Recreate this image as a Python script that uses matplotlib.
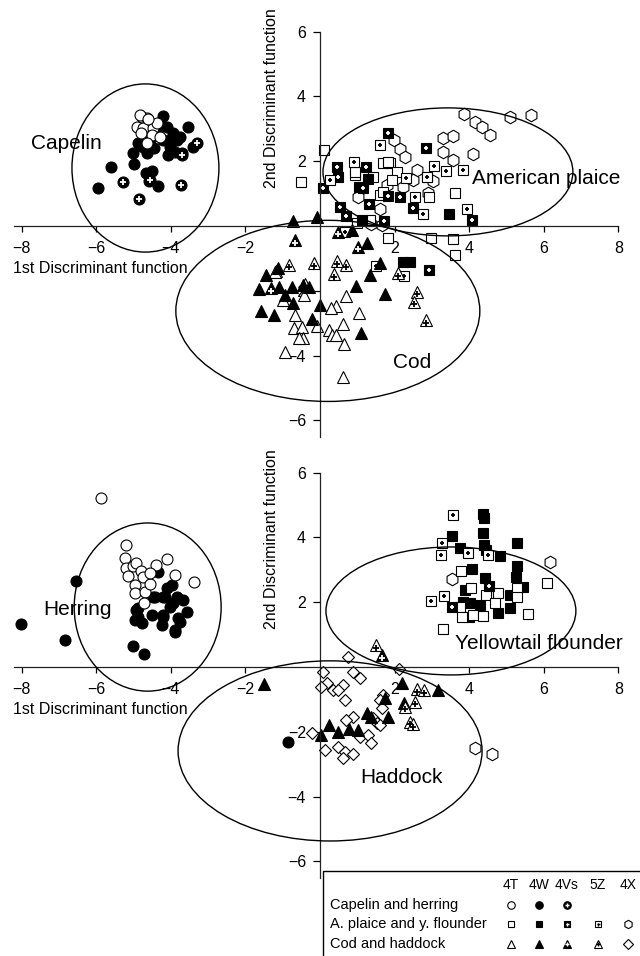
import matplotlib
matplotlib.use("Agg")
import matplotlib.pyplot as plt
from matplotlib.patches import Ellipse, Rectangle
import numpy as np

plt.rcParams['font.family'] = ['Liberation Sans', 'DejaVu Sans']

# ---- upper panel: capelin, American plaice, cod ----
capelin_4T = [(-4.78, 3.37), (-4.65, 3.32), (-4.83, 3.42), (-4.91, 3.06), (-4.74, 3.01),
              (-4.47, 3.01), (-4.51, 2.81), (-4.29, 2.76), (-4.65, 2.55), (-4.38, 3.17),
              (-4.60, 3.30), (-4.80, 2.86)]
capelin_4W = [(-5.94, 1.16), (-5.61, 1.83), (-5.00, 1.91), (-5.02, 2.24), (-4.67, 1.63),
              (-4.51, 1.70), (-4.33, 1.23), (-4.59, 1.40), (-3.53, 3.06), (-3.41, 2.45),
              (-4.29, 3.17), (-4.11, 3.06), (-3.93, 2.86), (-3.84, 2.65), (-4.02, 2.45),
              (-3.89, 2.29), (-4.20, 2.65), (-4.38, 2.86), (-4.56, 2.65), (-4.74, 2.45),
              (-4.87, 2.55), (-4.65, 2.24), (-4.07, 2.19), (-3.71, 2.24), (-4.20, 3.38),
              (-3.75, 2.76), (-4.45, 2.40), (-4.00, 2.70)]
capelin_4Vs = [(-5.27, 1.35), (-4.85, 0.83), (-3.73, 1.27), (-3.31, 2.55), (-3.71, 2.19),
               (-4.56, 1.42)]

plaice_4T = [(-0.51, 1.35), (0.12, 2.35), (0.94, 1.57), (1.43, 1.50), (1.70, 1.94),
             (1.88, 1.94), (2.06, 1.68), (1.92, 1.42), (1.61, 0.96), (0.98, 0.08),
             (1.34, 0.19), (1.81, -0.38), (2.97, -0.38), (3.57, -0.40), (3.62, -0.90),
             (3.63, 1.01), (2.86, 1.52), (2.93, 0.91), (0.94, 1.68), (1.83, 1.99),
             (1.70, 1.05)]
plaice_4W = [(3.47, 0.37), (2.23, -1.10), (2.41, -1.10), (1.12, 0.19), (1.30, 1.45),
             (1.05, 1.20)]
plaice_4Vs = [(1.83, 2.88), (2.83, 2.40), (0.46, 1.81), (0.49, 1.52), (0.09, 1.16),
              (1.22, 1.81), (1.16, 1.16), (1.32, 0.68), (0.54, 0.60), (0.71, 0.31),
              (1.72, 0.15), (2.14, 0.88), (2.50, 0.57), (4.07, 0.19), (2.92, -1.36),
              (1.81, 0.93)]
plaice_5Z = [(1.61, 2.50), (0.92, 1.99), (0.27, 1.42), (2.31, 1.49), (2.56, 0.91),
             (2.77, 0.37), (3.06, 1.85), (3.37, 1.70), (3.84, 1.73), (3.93, 0.52),
             (0.67, -0.19), (1.49, -1.23), (2.26, -1.53), (2.88, 1.50)]
plaice_4X = [(3.87, 3.45), (4.16, 3.22), (4.33, 3.06), (4.56, 2.81), (5.09, 3.37),
             (5.66, 3.43), (3.29, 2.73), (3.56, 2.78), (3.31, 2.29), (4.11, 2.22),
             (3.57, 2.04), (1.99, 2.65), (2.14, 2.37), (2.28, 2.14), (2.59, 1.73),
             (2.50, 1.42), (2.23, 1.21), (3.04, 1.40), (2.90, 1.01), (1.01, 0.91),
             (1.61, 0.52), (1.37, 0.05), (1.79, 1.27), (1.65, 0.02)]

cod_4T = [(-1.19, -1.38), (-0.98, -2.28), (-0.67, -2.75), (-0.69, -3.16), (-0.49, -3.11),
          (-0.45, -3.47), (-0.55, -3.47), (-0.94, -3.88), (-0.09, -3.08), (0.24, -3.21),
          (0.31, -3.36), (0.42, -3.36), (0.61, -3.03), (0.64, -3.64), (1.05, -2.70),
          (0.69, -2.16), (0.43, -2.47), (0.29, -2.54), (0.63, -4.67), (-0.40, -1.79),
          (-0.43, -2.13), (-1.21, -1.41)]
cod_4W = [(-0.72, 0.15), (-0.09, 0.29), (-1.45, -1.51), (-1.12, -1.31), (-1.64, -1.95),
          (-1.09, -1.89), (-0.94, -2.13), (-0.76, -1.87), (-0.72, -2.37), (-0.45, -1.82),
          (-0.29, -1.87), (-1.58, -2.61), (-1.23, -2.75), (0.00, -2.44), (-0.21, -2.88),
          (0.97, -1.85), (1.34, -1.51), (1.25, -0.53), (1.75, -2.10), (1.11, -3.31),
          (1.61, -1.15), (0.85, -0.12)]
cod_4Vs = [(-0.67, -0.43), (0.49, -0.17), (1.03, -0.64), (-1.31, -1.92)]
cod_5Z = [(-0.83, -1.20), (-0.15, -1.15), (0.45, -1.08), (0.69, -1.20), (0.38, -1.48),
          (2.59, -2.03), (2.53, -2.34), (2.83, -2.90), (2.10, -1.46)]

# ---- lower panel: herring, yellowtail flounder, haddock ----
herring_4T = [(-5.88, 5.23), (-5.20, 3.77), (-5.23, 3.37), (-5.20, 3.06), (-5.16, 2.81),
              (-5.02, 3.12), (-4.92, 3.20), (-4.80, 2.96), (-4.74, 2.79), (-4.96, 2.53),
              (-4.96, 2.27), (-4.69, 2.31), (-4.56, 2.56), (-4.72, 1.96), (-4.40, 3.15),
              (-4.11, 3.32), (-3.89, 2.84), (-3.38, 2.63), (-4.56, 2.89)]
herring_4W = [(-8.02, 1.32), (-6.84, 0.83), (-6.54, 2.65), (-5.02, 0.65), (-4.72, 0.40),
              (-4.87, 1.55), (-4.51, 1.60), (-4.87, 1.81), (-4.11, 2.43), (-3.98, 2.53),
              (-4.16, 2.17), (-4.02, 1.86), (-4.20, 1.55), (-4.24, 1.30), (-3.89, 1.14),
              (-3.75, 1.40), (-3.57, 1.71), (-3.66, 2.07), (-3.84, 2.17), (-3.80, 1.50),
              (-4.42, 2.17), (-4.34, 2.94), (-4.92, 1.76), (-4.96, 1.45), (-4.78, 1.35),
              (-4.20, 1.60), (-3.89, 1.09), (-3.93, 1.96), (-4.47, 2.17), (-4.20, 2.17),
              (-0.87, -2.30)]

yellow_4T = [(3.31, 1.17), (3.77, 2.96), (4.05, 2.45), (4.45, 2.22), (4.78, 2.27),
             (4.69, 1.99), (5.27, 2.43), (5.29, 2.17), (6.09, 2.60), (5.57, 1.63),
             (3.74, 1.84), (3.80, 1.55), (4.11, 1.60), (4.38, 1.57)]
yellow_4W = [(4.36, 4.71), (4.36, 4.13), (3.53, 4.05), (3.75, 3.66), (4.41, 3.77),
             (4.45, 3.61), (5.29, 3.84), (4.83, 3.44), (4.08, 3.02), (4.42, 2.76),
             (5.29, 3.12), (5.25, 2.79), (5.45, 2.48), (3.89, 2.38), (5.09, 2.22),
             (5.09, 1.83), (4.76, 1.68), (3.84, 2.02), (4.02, 1.96), (4.29, 1.91),
             (3.99, 1.55), (4.40, 4.60)]
yellow_4Vs = [(3.55, 1.84), (4.53, 2.50)]
yellow_5Z = [(3.56, 4.69), (3.28, 3.84), (3.24, 3.46), (3.98, 3.51), (4.51, 3.45),
             (3.33, 2.20), (2.98, 2.04)]
yellow_4X = [(6.17, 3.25), (3.55, 2.72), (4.16, -2.50), (4.61, -2.69)]

haddock_4W = [(-1.49, -0.53), (0.02, -2.10), (0.25, -1.79), (0.47, -2.00), (0.79, -1.92),
              (1.03, -1.94), (1.25, -1.43), (1.81, -1.55), (2.19, -0.50), (3.17, -0.71),
              (2.26, -1.10), (1.38, -1.53), (1.74, -0.97)]
haddock_4Vs = [(1.65, 0.37)]
haddock_5Z = [(1.50, 0.68), (2.59, -0.69), (2.79, -0.71), (2.28, -1.22), (2.55, -1.07),
              (2.41, -1.69), (2.48, -1.76)]
haddock_4X = [(0.74, 0.30), (0.09, -0.14), (0.89, -0.14), (1.07, -0.35), (0.18, -0.50),
              (0.04, -0.61), (0.36, -0.71), (0.63, -0.56), (0.49, -0.71), (0.67, -1.02),
              (1.70, -0.86), (1.61, -1.02), (1.65, -1.27), (0.89, -1.53), (0.71, -1.64),
              (1.43, -1.58), (1.52, -1.74), (1.61, -1.79), (-0.22, -2.05), (1.07, -2.15),
              (1.30, -2.10), (1.38, -2.36), (0.13, -2.56), (0.49, -2.46), (0.67, -2.61),
              (0.63, -2.82), (0.89, -2.67), (2.12, -0.06)]

# group ellipses: (centre x, centre y, width, height, label, label x, label y)
upper_groups = [(-4.68, 1.79, 3.94, 5.19, "Capelin", -7.75, 2.56),
                (3.43, 1.67, 6.70, 3.95, "American plaice", 4.08, 1.48),
                (0.21, -2.62, 8.15, 5.59, "Cod", 1.96, -4.20)]
lower_groups = [(-4.62, 1.85, 3.94, 5.19, "Herring", -7.43, 1.76),
                (3.51, 1.73, 6.70, 3.95, "Yellowtail flounder", 3.62, 0.74),
                (0.27, -2.59, 8.15, 5.56, "Haddock", 1.07, -3.40)]

xticks = [-8, -6, -4, -2, 2, 4, 6, 8]
yticks = [-6, -4, -2, 2, 4, 6]
zones = ["4T", "4W", "4Vs", "5Z", "4X"]

PX_X = 37.3   # pixels per unit on the first function
PX_Y = 32.4   # pixels per unit on the second function


def draw(ax, pts, marker, ms, face, plus=None, z=2):
    x, y = np.array(pts).T
    ax.plot(x, y, ls='none', marker=marker, ms=ms, mfc=face, mec='black',
            mew=0.8, zorder=z)
    if plus:
        dy = -0.08 if marker == '^' else 0
        ax.plot(x, y + dy, ls='none', marker='+', ms=ms * 0.5, mec=plus,
                mew=1.3, zorder=z)


def setup(ax, groups):
    ax.set_xlim(-320 / PX_X, 320 / PX_X)
    for s in ['top', 'right']:
        ax.spines[s].set_visible(False)
    ax.spines['left'].set_position(('data', 0))
    ax.spines['bottom'].set_position(('data', 0))
    ax.spines['left'].set_bounds(-6.5, 6)
    ax.spines['bottom'].set_bounds(-8.2, 8)
    for s in ['left', 'bottom']:
        ax.spines[s].set_linewidth(0.9)
        ax.spines[s].set_color('#222222')
    ax.set_xticks(xticks)
    ax.set_yticks(yticks)
    ax.tick_params(axis='x', direction='out', length=4, width=0.9, pad=7, labelsize=11.5)
    ax.tick_params(axis='y', direction='out', length=5, width=0.9, pad=5, labelsize=11.5)
    ax.patch.set_visible(False)
    for cx, cy, w, h, name, tx, ty in groups:
        ax.add_patch(Ellipse((cx, cy), w, h, fill=False, ec='black', lw=1.0, zorder=4))
        ax.text(tx, ty, name, fontsize=15, ha='left', va='center', zorder=5)
    ax.text(-1.29, 3.95, "2nd Discriminant function", rotation=90, fontsize=11.5,
            ha='center', va='center')
    ax.text(-8.23, -1.32, "1st Discriminant function", fontsize=11.5,
            ha='left', va='center')


fig = plt.figure(figsize=(6.4, 9.56), dpi=100)

ax1 = fig.add_axes([0, 1 - 440 / 956, 1, 440 / 956])
ax1.set_ylim((226 - 440) / PX_Y, 226 / PX_Y)
setup(ax1, upper_groups)

ax2 = fig.add_axes([0, 1 - 880 / 956, 1, 440 / 956])
ax2.set_ylim((667 - 880) / PX_Y, (667 - 440) / PX_Y)
setup(ax2, lower_groups)

# upper panel markers
draw(ax1, capelin_4W, 'o', 7.9, 'black')
draw(ax1, capelin_4Vs, 'o', 7.9, 'black', plus='white')
draw(ax1, capelin_4T, 'o', 7.9, 'white')
draw(ax1, plaice_4X, 'h', 9, 'white')
draw(ax1, plaice_4T, 's', 6.8, 'white')
draw(ax1, plaice_4W, 's', 6.8, 'black')
draw(ax1, plaice_4Vs, 's', 6.8, 'black', plus='white')
draw(ax1, plaice_5Z, 's', 6.8, 'white', plus='black')
draw(ax1, cod_4T, '^', 8.4, 'white')
draw(ax1, cod_4W, '^', 8.4, 'black')
draw(ax1, cod_4Vs, '^', 8.4, 'black', plus='white')
draw(ax1, cod_5Z, '^', 8.4, 'white', plus='black')

# lower panel markers
draw(ax2, herring_4W, 'o', 7.9, 'black')
draw(ax2, herring_4T, 'o', 7.9, 'white')
draw(ax2, yellow_4X, 'h', 9, 'white')
draw(ax2, yellow_4W, 's', 6.8, 'black')
draw(ax2, yellow_4T, 's', 6.8, 'white')
draw(ax2, yellow_4Vs, 's', 6.8, 'black', plus='white')
draw(ax2, yellow_5Z, 's', 6.8, 'white', plus='black')
draw(ax2, haddock_4X, 'D', 6.6, 'white')
draw(ax2, haddock_4W, '^', 8.4, 'black')
draw(ax2, haddock_4Vs, '^', 8.4, 'black', plus='white')
draw(ax2, haddock_5Z, '^', 8.4, 'white', plus='black')

# key box in pixel coordinates
kx = fig.add_axes([0, 0, 1, 1])
kx.set_xlim(0, 640)
kx.set_ylim(956, 0)
kx.axis('off')
kx.add_patch(Rectangle((323, 871), 330, 100, fc='white', ec='black', lw=1.0, zorder=1))

cols = [511, 539, 567, 598, 628]
for cx, z in zip(cols, zones):
    kx.text(cx, 885, z, fontsize=10, ha='center', va='center', zorder=3)

rows = [("Capelin and herring", 904.5,
         [('o', 5.4, 'white', None), ('o', 5.4, 'black', None), ('o', 5.4, 'black', 'white')]),
        ("A. plaice and y. flounder", 924,
         [('s', 4.8, 'white', None), ('s', 4.8, 'black', None), ('s', 4.8, 'black', 'white'),
          ('s', 4.8, 'white', 'black'), ('h', 6, 'white', None)]),
        ("Cod and haddock", 943.5,
         [('^', 5.8, 'white', None), ('^', 5.8, 'black', None), ('^', 5.8, 'black', 'white'),
          ('^', 5.8, 'white', 'black'), ('D', 4.8, 'white', None)])]
for label, ry, marks in rows:
    kx.text(330, ry, label, fontsize=10.5, ha='left', va='center', zorder=3)
    for cx, (m, ms, fc, pc) in zip(cols, marks):
        kx.plot([cx], [ry], ls='none', marker=m, ms=ms, mfc=fc, mec='black',
                mew=0.8, zorder=3)
        if pc:
            kx.plot([cx], [ry + (0.8 if m == '^' else 0)], ls='none', marker='+',
                    ms=ms * 0.45, mec=pc, mew=1.0, zorder=4)

fig.savefig("out.png", dpi=100)
